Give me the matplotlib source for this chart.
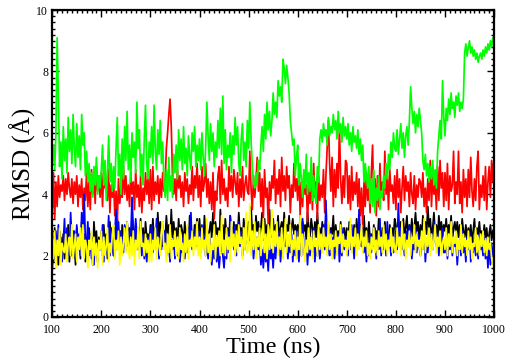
import matplotlib
matplotlib.use("Agg")
import matplotlib.pyplot as plt
import numpy as np
from matplotlib.ticker import MultipleLocator

# time axis, one sample every 2.5 ns from 100 to 1000 ns
time_ns = np.arange(100, 1000.1, 2.5)

black = [
    2.4, 1.8, 2.9, 2.0, 2.6, 1.7, 2.8, 2.3, 2.1, 2.7, 1.9, 2.5, 2.2, 3.0, 1.8, 2.6, 2.0, 2.8, 2.4, 1.7,
    2.9, 2.2, 2.6, 1.9, 3.1, 2.3, 2.7, 1.8, 2.5, 2.1, 2.9, 2.3, 2.6, 1.7, 3.1, 2.4, 2.8, 2.0, 2.6, 2.2,
    2.8, 2.0, 3.0, 2.3, 2.7, 1.9, 2.5, 3.1, 2.4, 2.6, 2.0, 2.9, 2.2, 3.2, 2.5, 2.8, 2.1, 3.0, 2.4, 2.7,
    2.2, 3.1, 2.5, 2.9, 2.3, 3.3, 2.6, 2.4, 3.0, 2.2, 2.8, 2.5, 3.2, 2.4, 2.9, 2.1, 3.1, 2.6, 2.7, 2.3,
    3.0, 2.4, 3.2, 2.5, 2.9, 2.2, 3.4, 2.6, 3.1, 2.7, 2.3, 2.8, 2.5, 3.3, 2.7, 3.0, 2.4, 3.5, 2.6, 3.1,
    2.5, 2.9, 2.3, 3.2, 2.6, 3.0, 2.8, 2.4, 3.1, 2.5, 2.9, 2.3, 3.3, 2.6, 2.8, 2.4, 3.0, 2.7, 3.2, 2.5,
    3.2, 2.5, 2.9, 2.3, 3.3, 2.6, 3.0, 2.4, 2.8, 3.1, 2.6, 3.4, 2.5, 3.1, 2.7, 2.9, 2.3, 3.5, 2.6, 3.0,
    2.4, 3.2, 2.7, 2.9, 2.5, 3.3, 2.8, 2.6, 3.1, 2.4, 3.0, 2.6, 3.4, 2.7, 2.9, 2.3, 3.2, 2.8, 3.0, 2.5,
    3.1, 2.5, 3.6, 2.7, 3.0, 2.4, 3.3, 2.8, 3.1, 2.6, 2.9, 3.4, 2.5, 3.2, 2.6, 3.0, 2.7, 3.5, 2.9, 2.6,
    3.2, 2.6, 3.0, 2.8, 3.3, 2.5, 2.9, 3.1, 2.7, 3.4, 2.6, 3.0, 2.8, 3.3, 2.5, 2.9, 3.2, 2.7, 3.0, 2.8,
    3.0, 2.6, 3.3, 2.7, 3.1, 2.8, 3.0, 2.5, 3.4, 2.9, 2.6, 3.2, 2.9, 2.4, 3.1, 2.6, 3.4, 2.7, 2.9, 2.5,
    3.1, 2.6, 2.8, 3.2, 2.3, 3.0, 2.5, 2.9, 2.7, 3.3, 2.4, 3.0, 2.6, 2.8, 2.3, 3.1, 2.5, 2.7, 2.9, 2.4,
    2.9, 2.3, 3.1, 2.5, 2.8, 2.6, 3.0, 2.4, 3.2, 2.7, 2.5, 3.0, 2.3, 2.7, 3.3, 2.6, 2.9, 2.4, 3.1, 2.5,
    2.7, 2.3, 3.0, 2.6, 2.8, 2.4, 3.2, 2.7, 2.5, 2.9, 2.4, 3.1, 2.6, 2.8, 2.5, 3.0, 2.7, 2.9, 2.6, 3.2,
    3.0, 2.4, 2.8, 2.6, 3.1, 2.5, 3.2, 2.7, 2.9, 3.3, 2.5, 3.0, 2.7, 3.2, 2.6, 2.9, 3.4, 2.8, 3.1, 2.5,
    3.0, 2.6, 3.3, 2.8, 3.1, 2.7, 3.6, 2.9, 3.2, 2.6, 2.9, 3.4, 2.7, 3.0, 2.5, 3.3, 2.8, 3.1, 2.7, 3.0,
    2.8, 3.2, 2.6, 3.0, 2.7, 3.3, 2.5, 2.9, 3.1, 2.7, 3.1, 2.6, 3.0, 2.4, 3.2, 2.8, 2.6, 3.0, 2.5, 2.9,
    2.6, 3.0, 2.4, 2.8, 3.2, 2.5, 2.9, 2.7, 3.1, 2.6, 2.8, 2.5, 3.0, 2.6, 2.9, 2.3, 2.7, 3.0, 2.5, 2.8,
    2.9,
]

red = [
    3.4, 4.7, 3.2, 4.4, 3.6, 4.6, 3.9, 4.3, 4.1, 4.6, 3.8, 4.5, 4.0, 4.7, 4.2, 3.9, 4.5, 3.7, 4.4, 4.0,
    4.6, 3.6, 4.3, 3.9, 4.5, 3.5, 4.2, 3.8, 4.7, 3.6, 4.4, 3.5, 4.8, 4.0, 4.5, 3.7, 4.9, 4.1, 4.6, 3.9,
    4.7, 3.6, 4.9, 4.2, 4.5, 3.8, 4.8, 3.4, 4.3, 3.9, 4.4, 3.3, 4.1, 3.0, 4.5, 3.7, 4.2, 3.9, 4.9, 4.0,
    4.6, 3.8, 4.3, 3.6, 4.7, 4.0, 4.4, 3.5, 4.8, 3.9, 4.3, 3.6, 4.6, 3.4, 4.2, 3.8, 4.7, 4.0, 4.5, 3.7,
    4.8, 3.5, 4.9, 3.8, 4.4, 4.0, 4.6, 3.7, 4.5, 3.9, 4.7, 4.1, 4.4, 5.5, 6.0, 6.6, 7.1, 6.2, 4.6, 4.0,
    4.5, 3.8, 4.8, 4.2, 4.6, 3.9, 4.4, 3.6, 4.7, 4.1, 4.5, 3.7, 4.3, 4.0, 4.9, 3.8, 4.6, 4.2, 5.0, 3.9,
    4.6, 3.6, 4.9, 4.1, 4.4, 5.0, 3.9, 4.5, 3.7, 4.4, 3.5, 4.7, 3.2, 4.1, 3.8, 4.6, 4.9, 3.7, 5.1, 4.0,
    4.5, 3.8, 4.2, 3.6, 4.9, 4.1, 4.6, 3.9, 4.8, 4.4, 4.0, 4.7, 3.6, 4.5, 3.9, 4.9, 3.8, 4.3, 4.6, 4.1,
    4.0, 5.4, 4.2, 3.5, 4.6, 3.9, 4.4, 5.2, 4.1, 4.7, 3.6, 4.5, 3.2, 4.8, 3.9, 4.2, 3.0, 4.4, 3.8, 4.6,
    4.2, 5.1, 3.7, 4.5, 4.0, 4.8, 3.6, 5.2, 4.1, 4.6, 3.8, 4.9, 4.2, 4.6, 3.4, 4.3, 3.9, 5.0, 4.1, 4.5,
    3.8, 4.9, 3.3, 4.4, 3.6, 4.7, 4.0, 4.3, 3.1, 4.2, 3.7, 4.6, 3.5, 5.0, 3.9, 4.4, 3.2, 4.6, 3.8, 4.3,
    3.9, 4.8, 3.4, 4.6, 5.5, 6.4, 5.0, 4.1, 5.2, 3.6, 4.8, 3.9, 5.0, 4.2, 6.2, 4.5, 3.7, 4.6, 3.9, 5.1,
    5.0, 3.7, 4.6, 3.5, 4.9, 3.8, 4.4, 4.0, 4.7, 3.6, 4.5, 3.3, 4.2, 2.9, 4.4, 3.6, 4.7, 3.8, 4.2, 3.4,
    4.7, 5.6, 3.8, 4.5, 3.3, 4.6, 3.6, 5.0, 3.9, 4.4, 3.8, 5.4, 4.0, 4.6, 3.5, 4.8, 4.1, 4.3, 3.7, 4.6,
    3.5, 4.8, 3.9, 4.5, 3.4, 4.2, 4.9, 3.8, 4.6, 4.1, 4.4, 3.6, 4.7, 4.0, 3.7, 4.6, 3.5, 4.3, 3.9, 4.5,
    4.4, 3.9, 4.7, 3.6, 4.2, 3.4, 4.5, 3.8, 5.1, 3.6, 4.6, 4.0, 4.4, 3.5, 4.9, 3.8, 5.1, 4.2, 4.7, 3.6,
    4.7, 3.8, 5.0, 3.5, 4.6, 4.1, 4.3, 5.4, 3.7, 4.4, 4.0, 5.4, 3.7, 4.4, 3.4, 4.8, 3.9, 4.5, 3.6, 4.8,
    3.9, 5.2, 4.1, 3.6, 4.5, 3.8, 4.9, 5.4, 3.5, 4.3, 3.9, 4.6, 3.8, 4.9, 3.5, 4.4, 4.9, 3.9, 5.1, 4.4,
    5.2,
]

green = [
    5.0, 5.6, 4.8, 6.0, 9.1, 7.2, 4.9, 5.7, 4.5, 6.2, 5.1, 5.8, 4.7, 6.5, 5.4, 6.1, 5.0, 6.6, 5.5, 4.9,
    6.3, 5.2, 5.9, 4.8, 6.6, 5.6, 6.0, 4.6, 5.4, 4.4, 5.0, 4.1, 4.7, 3.9, 4.9, 4.3, 5.2, 4.0, 4.6, 4.2,
    4.8, 5.6, 4.3, 5.1, 3.8, 4.7, 5.9, 4.4, 5.0, 4.1, 4.9, 4.2, 5.5, 6.5, 4.6, 5.3, 4.0, 5.8, 4.5, 6.2,
    5.1, 6.7, 4.8, 5.6, 4.4, 6.0, 5.2, 5.7, 4.7, 7.0, 5.5, 6.1, 4.6, 5.3, 4.3, 5.8, 6.9, 5.0, 4.5, 5.7,
    5.2, 6.2, 5.0, 6.9, 5.4, 4.8, 6.1, 5.3, 6.4, 5.0, 5.7, 4.4, 3.9, 4.8, 3.8, 5.2, 4.1, 4.6, 3.9, 5.3,
    4.7, 5.6, 4.5, 6.1, 5.1, 5.8, 4.8, 6.2, 5.0, 5.5, 4.6, 5.9, 5.2, 4.8, 6.0, 5.4, 6.2, 4.9, 5.6, 5.1,
    5.8, 4.8, 6.0, 5.2, 4.6, 5.5, 7.0, 5.9, 5.1, 6.3, 5.4, 6.0, 4.9, 5.7, 5.2, 6.4, 5.5, 6.8, 5.3, 7.2,
    5.0, 6.1, 4.8, 5.6, 5.2, 6.0, 4.7, 5.9, 5.3, 6.5, 5.6, 6.2, 5.0, 4.6, 5.8, 6.3, 5.1, 5.7, 4.9, 6.4,
    5.5, 7.0, 5.8, 4.9, 4.4, 4.2, 4.7, 4.3, 5.1, 4.8, 5.6, 6.2, 5.4, 6.6, 5.8, 7.0, 6.1, 6.7, 5.9, 6.4,
    7.3, 6.6, 7.0, 6.5, 7.7, 7.2, 7.5, 7.0, 8.4, 8.1, 7.6, 8.2, 7.8, 7.3, 6.4, 6.0, 5.6, 5.8, 4.6, 5.2,
    5.6, 4.3, 5.0, 4.5, 3.9, 4.8, 4.2, 5.3, 4.0, 4.7, 4.1, 5.2, 3.8, 4.6, 4.0, 3.7, 4.9, 4.4, 5.8, 6.1,
    5.7, 6.3, 5.9, 6.1, 5.6, 6.5, 5.9, 6.2, 6.0, 6.6, 6.1, 6.4, 5.8, 6.7, 6.0, 6.3, 5.7, 6.5, 5.9, 6.2,
    5.8, 6.3, 5.6, 6.0, 5.4, 6.2, 5.7, 5.9, 5.5, 6.1, 5.3, 5.8, 5.1, 5.6, 4.4, 5.0, 4.6, 4.2, 4.9, 3.7,
    4.5, 3.6, 4.8, 3.4, 4.2, 3.8, 4.6, 3.5, 4.1, 3.9, 4.6, 4.2, 5.0, 4.5, 5.3, 4.8, 5.7, 5.2, 6.0, 5.5,
    5.4, 6.1, 5.3, 5.8, 6.3, 5.5, 6.0, 5.2, 5.9, 6.2, 5.6, 6.4, 7.5, 6.8, 6.3, 6.7, 6.0, 6.6, 6.2, 6.8,
    6.4, 6.0, 5.1, 4.8, 5.3, 4.6, 5.0, 4.4, 4.9, 4.5, 5.1, 4.3, 4.8, 4.2, 5.4, 5.9, 6.4, 5.8, 7.7, 6.5,
    5.9, 6.8, 6.4, 7.1, 6.6, 7.3, 6.8, 7.0, 6.5, 7.2, 6.9, 7.3, 6.7, 7.0, 6.8, 7.1, 8.6, 8.9, 8.5, 8.8,
    9.0, 8.6, 8.8, 8.5, 8.7, 8.4, 8.6, 8.3, 8.5, 8.6, 8.4, 8.7, 8.5, 8.8, 8.6, 8.9, 8.7, 9.0, 8.8, 9.1,
    8.9,
]

blue = [
    1.5, 2.3, 1.9, 2.8, 2.0, 3.0, 2.2, 2.6, 1.8, 2.4, 3.2, 2.1, 2.9, 2.4, 2.0, 3.4, 2.5, 2.2, 2.8, 1.9,
    3.0, 2.4, 2.7, 2.0, 3.4, 2.6, 4.0, 2.5, 2.3, 3.1, 2.0, 2.7, 1.9, 2.4, 1.7, 2.6, 2.1, 1.8, 2.5, 2.2,
    2.2, 3.0, 1.8, 2.6, 2.1, 2.4, 3.3, 2.0, 2.9, 2.3, 2.0, 2.7, 3.5, 2.4, 3.1, 2.2, 2.8, 2.5, 2.1, 3.0,
    2.6, 3.1, 2.3, 2.8, 2.5, 3.9, 2.9, 2.4, 3.2, 2.7, 2.2, 2.9, 2.5, 2.0, 2.7, 1.9, 2.4, 1.8, 2.6, 2.1,
    2.5, 3.0, 2.1, 2.8, 2.3, 3.2, 2.6, 1.9, 2.6, 2.2, 3.1, 2.4, 2.8, 2.0, 2.7, 2.3, 1.8, 2.5, 2.2, 2.6,
    1.9, 2.4, 2.0, 2.5, 1.8, 2.3, 2.1, 2.7, 1.9, 2.4, 2.1, 2.9, 2.5, 3.4, 2.2, 2.7, 2.4, 3.0, 2.3, 2.6,
    2.8, 2.1, 3.0, 2.3, 2.6, 2.0, 2.4, 1.9, 2.7, 2.2, 1.7, 2.2, 1.9, 2.5, 1.8, 2.3, 1.6, 2.1, 2.5, 2.0,
    1.6, 2.3, 1.9, 2.8, 2.1, 3.3, 2.4, 2.9, 2.2, 3.0, 2.0, 2.6, 3.1, 2.3, 2.8, 2.0, 2.5, 2.2, 2.9, 2.4,
    2.6, 3.1, 2.2, 2.7, 1.9, 2.4, 2.0, 2.6, 2.2, 2.5, 1.7, 2.2, 1.6, 2.3, 1.8, 2.1, 1.5, 2.4, 1.9, 2.2,
    1.6, 2.3, 1.9, 2.6, 2.1, 2.8, 1.8, 2.4, 2.0, 2.9, 2.3, 2.6, 1.9, 2.4, 2.1, 2.7, 1.8, 2.5, 2.0, 2.8,
    2.2, 1.8, 2.7, 2.0, 3.2, 2.3, 1.9, 2.5, 1.7, 2.4, 2.0, 2.6, 2.1, 2.9, 1.8, 2.4, 2.0, 2.7, 1.9, 2.3,
    2.6, 3.0, 2.2, 3.8, 2.5, 2.3, 2.0, 2.8, 2.2, 2.6, 1.9, 2.4, 2.1, 2.7, 1.8, 2.5, 2.0, 2.9, 2.2, 2.4,
    2.6, 2.0, 2.8, 2.2, 3.0, 2.4, 1.9, 2.7, 2.3, 2.5, 3.5, 2.6, 2.3, 2.9, 2.1, 2.5, 1.8, 2.4, 2.0, 2.7,
    2.1, 2.6, 2.3, 2.9, 1.9, 2.4, 2.2, 3.2, 2.0, 2.6, 2.2, 2.8, 2.0, 3.1, 2.3, 2.6, 2.0, 2.5, 2.1, 2.3,
    2.8, 2.2, 3.7, 2.6, 2.9, 2.2, 2.6, 2.0, 2.5, 2.8, 2.3, 3.0, 2.6, 1.9, 2.4, 2.2, 2.9, 2.1, 2.7, 2.3,
    2.0, 2.5, 2.2, 2.8, 1.8, 2.4, 2.1, 2.8, 2.3, 2.6, 2.2, 3.1, 2.5, 2.3, 2.7, 2.0, 2.6, 2.3, 2.9, 2.1,
    2.1, 2.7, 1.9, 2.4, 2.2, 2.9, 2.0, 2.6, 2.3, 2.5, 1.7, 2.3, 2.5, 2.0, 2.8, 2.1, 2.4, 1.8, 2.6, 2.2,
    2.8, 1.8, 2.4, 2.1, 2.6, 2.0, 2.5, 1.9, 2.7, 2.2, 2.4, 2.0, 2.6, 1.9, 2.3, 1.6, 2.5, 1.7, 2.4, 2.0,
    2.2,
]

yellow = [
    2.6, 1.9, 2.8, 1.6, 2.5, 2.0, 2.9, 1.7, 2.4, 2.2, 2.1, 2.7, 1.8, 2.4, 2.6, 2.0, 3.0, 1.9, 2.3, 2.7,
    1.8, 2.6, 2.2, 2.9, 2.0, 3.0, 1.9, 2.5, 2.3, 1.6, 2.5, 2.2, 2.8, 1.7, 2.6, 2.0, 2.4, 1.6, 2.5, 2.2,
    2.8, 1.7, 2.6, 2.0, 2.3, 2.9, 1.8, 2.4, 2.1, 2.7, 3.0, 1.9, 2.5, 2.2, 2.8, 1.7, 2.6, 2.0, 2.4, 2.9,
    2.1, 3.1, 2.3, 1.9, 2.6, 2.0, 2.8, 1.7, 2.5, 2.2, 2.9, 1.9, 3.1, 2.3, 2.4, 2.0, 2.7, 2.1, 2.5, 1.8,
    2.7, 1.8, 2.5, 2.2, 2.9, 1.9, 2.6, 2.3, 2.0, 2.8, 3.1, 2.2, 2.4, 1.8, 2.7, 2.1, 3.0, 1.9, 2.5, 2.3,
    2.8, 2.0, 2.6, 1.9, 2.9, 2.2, 2.4, 1.8, 2.7, 2.1, 3.0, 1.9, 2.5, 2.3, 2.8, 2.0, 2.6, 2.2, 3.1, 2.0,
    2.6, 1.9, 2.9, 2.2, 2.5, 2.0, 3.2, 2.1, 2.7, 1.8, 2.4, 2.2, 3.0, 1.9, 2.6, 2.3, 2.8, 2.0, 3.3, 2.1,
    2.5, 2.0, 2.9, 2.2, 2.6, 1.8, 3.1, 2.3, 2.7, 2.0, 2.8, 2.1, 3.0, 2.4, 2.6, 1.9, 2.9, 2.2, 3.4, 2.1,
    2.5, 3.7, 2.0, 2.8, 2.2, 3.1, 1.9, 2.6, 2.3, 2.9, 2.0, 2.5, 3.2, 2.1, 2.7, 1.9, 3.0, 2.2, 2.6, 3.5,
    2.1, 2.8, 2.3, 3.1, 2.0, 2.6, 2.2, 2.9, 1.9, 2.5, 3.2, 2.1, 2.7, 2.3, 3.0, 2.0, 2.5, 2.2, 2.8, 1.9,
    2.6, 2.2, 3.3, 2.0, 2.7, 2.3, 1.8, 2.5, 2.1, 2.9, 2.2, 2.6, 1.9, 2.8, 2.3, 2.5, 2.0, 3.0, 2.2, 2.7,
    2.1, 2.9, 2.3, 2.6, 2.0, 3.1, 2.2, 2.7, 1.9, 2.5, 2.3, 2.8, 2.0, 2.6, 2.4, 3.0, 2.1, 2.7, 2.3, 2.5,
    2.0, 2.8, 2.2, 3.2, 2.1, 2.6, 2.3, 2.9, 2.0, 2.7, 2.2, 2.5, 3.0, 2.1, 2.6, 2.3, 2.8, 2.0, 2.4, 1.9,
    2.6, 2.2, 2.9, 2.1, 2.5, 2.0, 2.8, 2.3, 2.6, 2.1, 3.0, 2.2, 2.7, 2.0, 2.5, 2.3, 2.9, 2.1, 2.6, 2.2,
    2.1, 2.9, 2.3, 2.6, 2.0, 3.1, 2.2, 2.7, 1.9, 2.5, 2.3, 2.8, 2.0, 2.6, 2.4, 3.0, 2.1, 2.7, 2.3, 2.5,
    2.0, 2.8, 2.2, 3.2, 2.1, 2.6, 2.3, 2.9, 2.0, 2.7, 2.2, 2.5, 3.0, 2.1, 2.6, 2.3, 2.8, 2.0, 2.4, 2.6,
    2.2, 2.9, 2.0, 2.7, 2.3, 3.1, 2.1, 2.6, 2.4, 2.8, 2.0, 2.5, 2.2, 3.0, 2.1, 2.7, 2.3, 2.5, 2.0, 2.8,
    2.2, 2.6, 1.9, 2.4, 2.3, 2.9, 2.1, 2.6, 2.0, 2.7, 2.3, 2.8, 2.1, 2.5, 2.0, 2.6, 2.2, 2.4, 1.9, 1.7,
    2.1,
]

plt.rcParams['font.family'] = ['Liberation Serif', 'DejaVu Serif']

fig = plt.figure(figsize=(5.12, 3.61), dpi=100)
ax = fig.add_axes([0.102, 0.122, 0.863, 0.850])

# grace-style drawing order: black, red, green, blue, yellow
lw = 1.25
ax.plot(time_ns, black, color='black', lw=lw)
ax.plot(time_ns, red, color='#ff0000', lw=lw)
ax.plot(time_ns, green, color='#00ff00', lw=lw)
ax.plot(time_ns, blue, color='#0000ff', lw=lw)
ax.plot(time_ns, yellow, color='#ffff00', lw=lw)

ax.set_xlim(100, 1000)
ax.set_ylim(0, 10)
ax.xaxis.set_major_locator(MultipleLocator(100))
ax.xaxis.set_minor_locator(MultipleLocator(10))
ax.yaxis.set_major_locator(MultipleLocator(2))
ax.yaxis.set_minor_locator(MultipleLocator(0.2))
ax.tick_params(which='both', direction='in', top=True, right=True, width=1.0)
ax.tick_params(which='major', length=5, labelsize=8.5)
ax.tick_params(axis='x', which='major', pad=5)
ax.tick_params(axis='y', which='major', pad=3)
ax.tick_params(which='minor', length=2.5)
for s in ax.spines.values():
    s.set_linewidth(1.6)

ax.set_xlabel('Time (ns)', fontsize=17.5, labelpad=0.5)
ax.set_ylabel('RMSD (Å)', fontsize=18, labelpad=0)

fig.savefig('out.png', dpi=100)
